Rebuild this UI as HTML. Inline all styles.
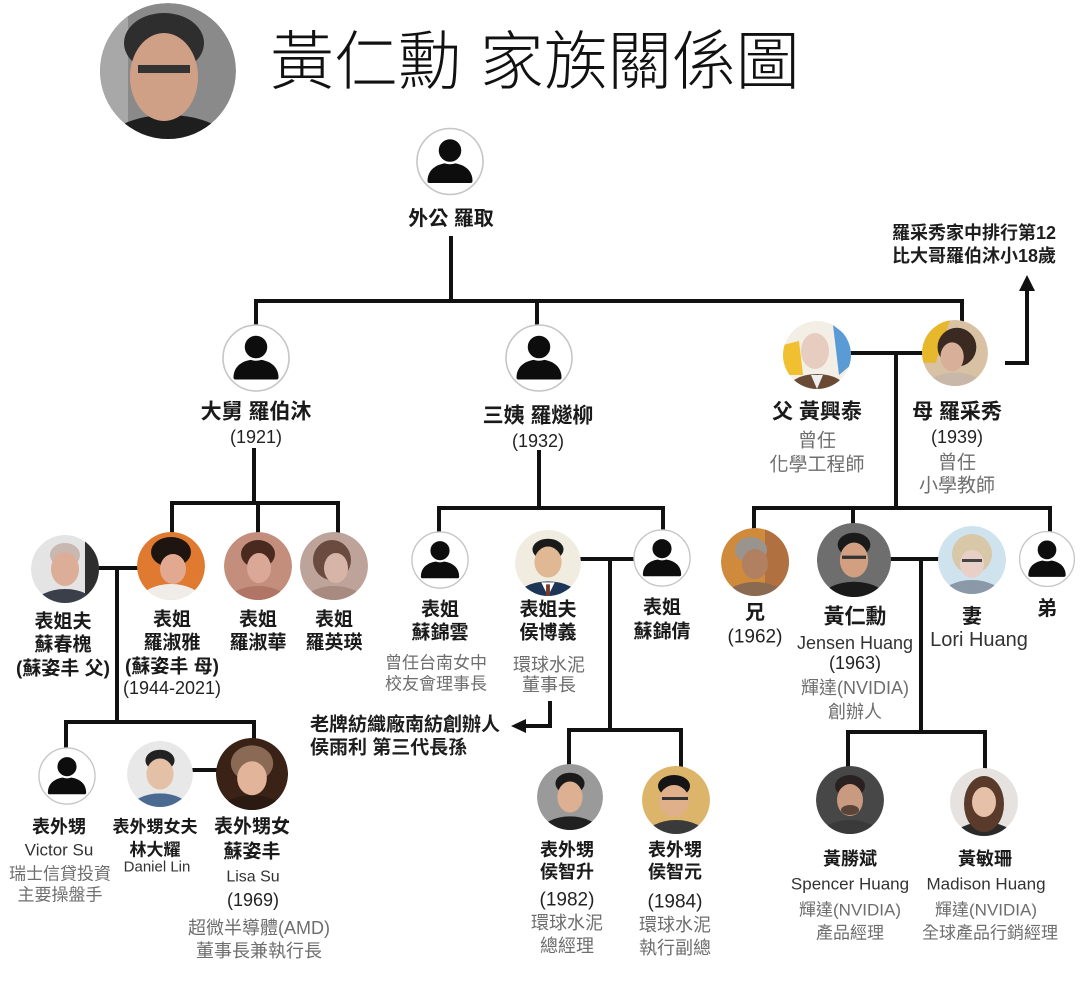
<!DOCTYPE html>
<html><head><meta charset="utf-8">
<style>
html,body{margin:0;padding:0;background:#fff;}
svg{display:block;}
text{font-family:"Liberation Sans","Noto Sans CJK TC",sans-serif;text-anchor:middle;dominant-baseline:central;}
.ttl{font-size:64px;font-weight:300;fill:#111;text-anchor:start;}
.n1{font-size:21px;font-weight:bold;fill:#1a1a1a;}
.n{font-size:19px;font-weight:bold;fill:#1a1a1a;}
.n2{font-size:18px;font-weight:bold;fill:#1a1a1a;}
.yr{font-size:18px;fill:#222;}
.s{font-size:18px;fill:#6e6e6e;}
.s2{font-size:17px;fill:#6e6e6e;}
.e{font-size:17px;fill:#333;}
.a{font-size:19px;font-weight:bold;fill:#1e1e1e;text-anchor:start;}
.ln{stroke:#111;stroke-width:4;fill:none;stroke-linecap:square;}
</style></head>
<body>
<svg width="1080" height="981" viewBox="0 0 1080 981" xmlns="http://www.w3.org/2000/svg">
<defs>
<clipPath id="c"><circle r="34"/></clipPath>
<g id="person">
<circle r="33" fill="#fff" stroke="#c6c6c6" stroke-width="1.6"/>
<path d="M-22.5,19.5 C-22.5,8 -13,1.5 0,1.5 C13,1.5 22.5,8 22.5,19.5 Q22.5,21.5 20.5,21.5 L-20.5,21.5 Q-22.5,21.5 -22.5,19.5Z" fill="#0d0d0d"/>
<circle cy="-11" r="12.5" fill="#0d0d0d" stroke="#fff" stroke-width="2.5"/>
</g>
</defs>

<!-- Title photo (Jensen) -->
<g transform="translate(168,71) scale(2)"><g clip-path="url(#c)">
<circle r="34" fill="#8a8a8a"/>
<rect x="-34" y="-34" width="14" height="68" fill="#a8a8a8"/>
<ellipse cx="0" cy="38" rx="32" ry="16" fill="#1e1e1e"/>
<ellipse cx="-2" cy="-14" rx="20" ry="15" fill="#2e2e2e"/>
<ellipse cx="-2" cy="3" rx="17" ry="22" fill="#d0a086"/>
<rect x="-15" y="-3" width="26" height="4" fill="#333"/>
</g></g>

<text class="ttl" x="270" y="62">黃仁勳 家族關係圖</text>

<!-- Connector lines -->
<path class="ln" d="M451 238V301 M256 301H962 M256 301V326 M537 301V326 M962 301V321"/>
<path class="ln" d="M254 450V503 M172 503H338 M172 503V534 M258 503V534 M338 503V534"/>
<path class="ln" d="M539 452V508 M439 508H663 M439 508V532 M663 508V530"/>
<path class="ln" d="M851 353H921 M896 353V508 M754 508H1050 M754 508V528 M853 508V523 M1050 508V532"/>
<path class="ln" d="M1007 363H1027V291" style="stroke-linejoin:miter"/>
<polygon points="1019,291 1035,291 1027,275" fill="#111"/>
<path class="ln" d="M98 568H137 M117 568V722 M66 722H254 M66 722V748 M254 722V738"/>
<path class="ln" d="M193 770H216"/>
<path class="ln" d="M582 559H633 M610 559V730 M569 730H681 M569 730V764 M681 730V767"/>
<path class="ln" d="M550 703V726H526" style="stroke-linejoin:miter"/>
<polygon points="526,719 526,733 511,726" fill="#111"/>
<path class="ln" d="M891 559H938 M921 559V732 M848 732H985 M848 732V768 M985 732V768"/>

<!-- Person icons -->
<use href="#person" transform="translate(450,161.5)"/>
<use href="#person" transform="translate(256,358)"/>
<use href="#person" transform="translate(539,358)"/>
<use href="#person" transform="translate(440,560) scale(0.85)"/>
<use href="#person" transform="translate(662,558) scale(0.85)"/>
<use href="#person" transform="translate(1047,559) scale(0.83)"/>
<use href="#person" transform="translate(67,776) scale(0.85)"/>

<!-- Dad -->
<g transform="translate(817,355)"><g clip-path="url(#c)">
<circle r="34" fill="#f3efe6"/>
<path d="M-34,-10 L-18,-14 L-14,20 L-34,20Z" fill="#f0c030"/>
<path d="M16,-30 L34,-16 L34,10 L22,20Z" fill="#5b9bd5"/>
<ellipse cx="0" cy="36" rx="30" ry="17" fill="#6b4a35"/>
<path d="M-6,20 L0,34 L6,20Z" fill="#eee"/>
<ellipse cx="-2" cy="-4" rx="14" ry="18" fill="#e6cdbf"/>
</g></g>
<!-- Mom -->
<g transform="translate(955,353) scale(0.97)"><g clip-path="url(#c)">
<circle r="34" fill="#d9c2a4"/>
<path d="M-34,-34 L-5,-34 L-20,10 L-34,10Z" fill="#e8b82c"/>
<ellipse cx="0" cy="36" rx="30" ry="16" fill="#c9b8aa"/>
<ellipse cx="2" cy="-6" rx="20" ry="20" fill="#3a2a22"/>
<ellipse cx="-3" cy="4" rx="12" ry="15" fill="#d8b09a"/>
</g></g>
<!-- 蘇春槐 -->
<g transform="translate(65,569)"><g clip-path="url(#c)">
<circle r="34" fill="#e4e4e4"/>
<rect x="20" y="-34" width="14" height="68" fill="#2e2e2e"/>
<ellipse cx="0" cy="36" rx="30" ry="16" fill="#3a3f4a"/>
<ellipse cx="0" cy="-14" rx="15" ry="12" fill="#c8b8b0"/>
<ellipse cx="0" cy="0" rx="14" ry="17" fill="#dcae98"/>
</g></g>
<!-- 羅淑雅 -->
<g transform="translate(171,566)"><g clip-path="url(#c)">
<circle r="34" fill="#e07a30"/>
<ellipse cx="0" cy="34" rx="30" ry="16" fill="#f0ede8"/>
<ellipse cx="0" cy="-14" rx="20" ry="15" fill="#1e1510"/>
<ellipse cx="2" cy="3" rx="13" ry="15" fill="#e2a890"/>
</g></g>
<!-- 羅淑華 -->
<g transform="translate(258,566)"><g clip-path="url(#c)">
<circle r="34" fill="#c48e7c"/>
<ellipse cx="0" cy="36" rx="30" ry="16" fill="#b07565"/>
<ellipse cx="0" cy="-12" rx="17" ry="14" fill="#4a2a1e"/>
<ellipse cx="1" cy="2" rx="12" ry="15" fill="#dba897"/>
</g></g>
<!-- 羅英瑛 -->
<g transform="translate(334,566)"><g clip-path="url(#c)">
<circle r="34" fill="#bda39a"/>
<ellipse cx="0" cy="36" rx="30" ry="16" fill="#a88a80"/>
<ellipse cx="-2" cy="-6" rx="19" ry="20" fill="#6b4a40"/>
<ellipse cx="2" cy="2" rx="12" ry="15" fill="#d6b5a8"/>
</g></g>
<!-- 侯博義 -->
<g transform="translate(548,563) scale(0.97)"><g clip-path="url(#c)">
<circle r="34" fill="#f1ece0"/>
<ellipse cx="0" cy="36" rx="32" ry="17" fill="#1d3557"/>
<path d="M-7,20 L0,34 L7,20Z" fill="#fff"/>
<rect x="-2" y="22" width="4" height="12" fill="#7a3a2a"/>
<ellipse cx="0" cy="-14" rx="16" ry="11" fill="#1a1a1a"/>
<ellipse cx="0" cy="-1" rx="14" ry="16" fill="#e0b894"/>
</g></g>
<!-- 兄 -->
<g transform="translate(755,562)"><g clip-path="url(#c)">
<circle r="34" fill="#cf8a3c"/>
<rect x="10" y="-34" width="24" height="68" fill="#b07040"/>
<ellipse cx="0" cy="36" rx="30" ry="16" fill="#8a6a50"/>
<ellipse cx="-4" cy="-12" rx="16" ry="13" fill="#9a948e"/>
<ellipse cx="0" cy="2" rx="13" ry="15" fill="#b08060"/>
</g></g>
<!-- Jensen -->
<g transform="translate(854,560) scale(1.09)"><g clip-path="url(#c)">
<circle r="34" fill="#6e6e6e"/>
<ellipse cx="0" cy="36" rx="30" ry="16" fill="#1a1a1a"/>
<ellipse cx="0" cy="-14" rx="15" ry="11" fill="#1a1a1a"/>
<ellipse cx="0" cy="0" rx="13" ry="16" fill="#d2a080"/>
<rect x="-11" y="-4" width="22" height="3" fill="#333"/>
</g></g>
<!-- Lori -->
<g transform="translate(972,560)"><g clip-path="url(#c)">
<circle r="34" fill="#cfe3ee"/>
<ellipse cx="0" cy="36" rx="30" ry="16" fill="#8a98a8"/>
<ellipse cx="0" cy="-6" rx="20" ry="20" fill="#d8c8a8"/>
<ellipse cx="0" cy="4" rx="12" ry="14" fill="#e8d0c8"/>
<rect x="-10" y="-1" width="20" height="3" fill="#444"/>
</g></g>
<!-- Daniel Lin -->
<g transform="translate(160,774) scale(0.97)"><g clip-path="url(#c)">
<circle r="34" fill="#e8e8e8"/>
<ellipse cx="0" cy="36" rx="30" ry="16" fill="#4a6a90"/>
<ellipse cx="0" cy="-14" rx="15" ry="11" fill="#222"/>
<ellipse cx="0" cy="0" rx="14" ry="16" fill="#e4c0a6"/>
</g></g>
<!-- Lisa Su -->
<g transform="translate(252,774) scale(1.06)"><g clip-path="url(#c)">
<circle r="34" fill="#3a2216"/>
<ellipse cx="0" cy="36" rx="30" ry="16" fill="#2a1a12"/>
<ellipse cx="0" cy="-10" rx="20" ry="17" fill="#8a6a55"/>
<ellipse cx="0" cy="4" rx="14" ry="16" fill="#e2b49a"/>
</g></g>
<!-- 侯智升 -->
<g transform="translate(570,797) scale(0.97)"><g clip-path="url(#c)">
<circle r="34" fill="#9a9a9a"/>
<ellipse cx="0" cy="36" rx="30" ry="16" fill="#202020"/>
<ellipse cx="0" cy="-14" rx="15" ry="11" fill="#1a1a1a"/>
<ellipse cx="0" cy="0" rx="13" ry="16" fill="#dcb090"/>
</g></g>
<!-- 侯智元 -->
<g transform="translate(676,800)"><g clip-path="url(#c)">
<circle r="34" fill="#dcb46a"/>
<ellipse cx="0" cy="36" rx="30" ry="16" fill="#3a3a3a"/>
<ellipse cx="-2" cy="-14" rx="16" ry="11" fill="#151515"/>
<ellipse cx="-2" cy="1" rx="15" ry="16" fill="#e0b08a"/>
<rect x="-14" y="-3" width="26" height="3" fill="#333"/>
</g></g>
<!-- Spencer -->
<g transform="translate(850,800)"><g clip-path="url(#c)">
<circle r="34" fill="#474747"/>
<ellipse cx="0" cy="36" rx="30" ry="16" fill="#3a3a3a"/>
<ellipse cx="0" cy="-14" rx="15" ry="11" fill="#2a2220"/>
<ellipse cx="0" cy="0" rx="13" ry="16" fill="#c89a80"/>
<ellipse cx="0" cy="10" rx="9" ry="5" fill="#5a4438"/>
</g></g>
<!-- Madison -->
<g transform="translate(984,802)"><g clip-path="url(#c)">
<circle r="34" fill="#e6e2e0"/>
<ellipse cx="0" cy="36" rx="30" ry="16" fill="#2a2a2a"/>
<ellipse cx="0" cy="2" rx="20" ry="28" fill="#5a3a2a"/>
<ellipse cx="0" cy="0" rx="12" ry="15" fill="#e6c0a8"/>
</g></g>

<!-- Labels -->
<text class="n1" x="451" y="219" style="font-size:20px">外公 羅取</text>

<text class="n1" x="256" y="412">大舅 羅伯沐</text>
<text class="yr" x="256" y="437">(1921)</text>

<text class="n1" x="538" y="416">三姨 羅燧柳</text>
<text class="yr" x="538" y="441">(1932)</text>

<text class="n1" x="817" y="412">父 黃興泰</text>
<text class="s" x="817" y="441" style="font-size:19px">曾任</text>
<text class="s" x="817" y="465" style="font-size:19px">化學工程師</text>

<text class="n1" x="957" y="412">母 羅采秀</text>
<text class="yr" x="957" y="437">(1939)</text>
<text class="s" x="957" y="463" style="font-size:19px">曾任</text>
<text class="s" x="957" y="486" style="font-size:19px">小學教師</text>

<text class="a" x="892" y="233" style="font-size:18px">羅采秀家中排行第12</text>
<text class="a" x="892" y="256" style="font-size:18px">比大哥羅伯沐小18歲</text>

<text class="n" x="63" y="622">表姐夫</text>
<text class="n" x="63" y="645">蘇春槐</text>
<text class="n" x="63" y="669">(蘇姿丰 父)</text>

<text class="n" x="172" y="620">表姐</text>
<text class="n" x="172" y="643">羅淑雅</text>
<text class="n" x="172" y="667">(蘇姿丰 母)</text>
<text class="yr" x="172" y="688">(1944-2021)</text>

<text class="n" x="258" y="620">表姐</text>
<text class="n" x="258" y="643">羅淑華</text>
<text class="n" x="334" y="620">表姐</text>
<text class="n" x="334" y="643">羅英瑛</text>

<text class="n" x="440" y="610">表姐</text>
<text class="n" x="440" y="633">蘇錦雲</text>
<text class="s2" x="436" y="663">曾任台南女中</text>
<text class="s2" x="436" y="684">校友會理事長</text>

<text class="n" x="548" y="610">表姐夫</text>
<text class="n" x="548" y="633">侯博義</text>
<text class="s" x="549" y="665">環球水泥</text>
<text class="s" x="549" y="685">董事長</text>

<text class="n" x="662" y="608">表姐</text>
<text class="n" x="662" y="632">蘇錦倩</text>

<text class="a" x="310" y="725">老牌紡織廠南紡創辦人</text>
<text class="a" x="310" y="748">侯雨利 第三代長孫</text>

<text class="n1" x="755" y="613" style="font-size:20px">兄</text>
<text class="yr" x="755" y="637" style="font-size:19px">(1962)</text>

<text class="n1" x="855" y="617">黃仁勳</text>
<text class="e" x="855" y="643" style="font-size:18px">Jensen Huang</text>
<text class="yr" x="855" y="663">(1963)</text>
<text class="s" x="855" y="688">輝達(NVIDIA)</text>
<text class="s" x="855" y="712">創辦人</text>

<text class="n1" x="972" y="617" style="font-size:20px">妻</text>
<text class="e" x="979" y="640" style="font-size:20px">Lori Huang</text>

<text class="n1" x="1047" y="609" style="font-size:20px">弟</text>

<text class="n2" x="59" y="827">表外甥</text>
<text class="e" x="59" y="850">Victor Su</text>
<text class="s2" x="60" y="874">瑞士信貸投資</text>
<text class="s2" x="60" y="895">主要操盤手</text>

<text class="n2" x="155" y="827" style="font-size:17px">表外甥女夫</text>
<text class="n2" x="155" y="850" style="font-size:17px">林大耀</text>
<text class="e" x="157" y="867" style="font-size:15px">Daniel Lin</text>

<text class="n" x="252" y="827">表外甥女</text>
<text class="n" x="252" y="852">蘇姿丰</text>
<text class="e" x="253" y="877" style="font-size:16px">Lisa Su</text>
<text class="yr" x="253" y="900">(1969)</text>
<text class="s" x="259" y="928">超微半導體(AMD)</text>
<text class="s" x="259" y="951">董事長兼執行長</text>

<text class="n2" x="567" y="850">表外甥</text>
<text class="n2" x="567" y="872">侯智升</text>
<text class="yr" x="567" y="900" style="font-size:19px">(1982)</text>
<text class="s" x="567" y="923">環球水泥</text>
<text class="s" x="567" y="946">總經理</text>

<text class="n2" x="675" y="850">表外甥</text>
<text class="n2" x="675" y="872">侯智元</text>
<text class="yr" x="675" y="902" style="font-size:19px">(1984)</text>
<text class="s" x="675" y="925">環球水泥</text>
<text class="s" x="675" y="948">執行副總</text>

<text class="n2" x="850" y="859">黃勝斌</text>
<text class="e" x="850" y="884">Spencer Huang</text>
<text class="s2" x="850" y="910">輝達(NVIDIA)</text>
<text class="s2" x="850" y="933">產品經理</text>

<text class="n2" x="985" y="859">黃敏珊</text>
<text class="e" x="986" y="884">Madison Huang</text>
<text class="s2" x="986" y="910">輝達(NVIDIA)</text>
<text class="s2" x="990" y="933">全球產品行銷經理</text>
</svg>
</body></html>
